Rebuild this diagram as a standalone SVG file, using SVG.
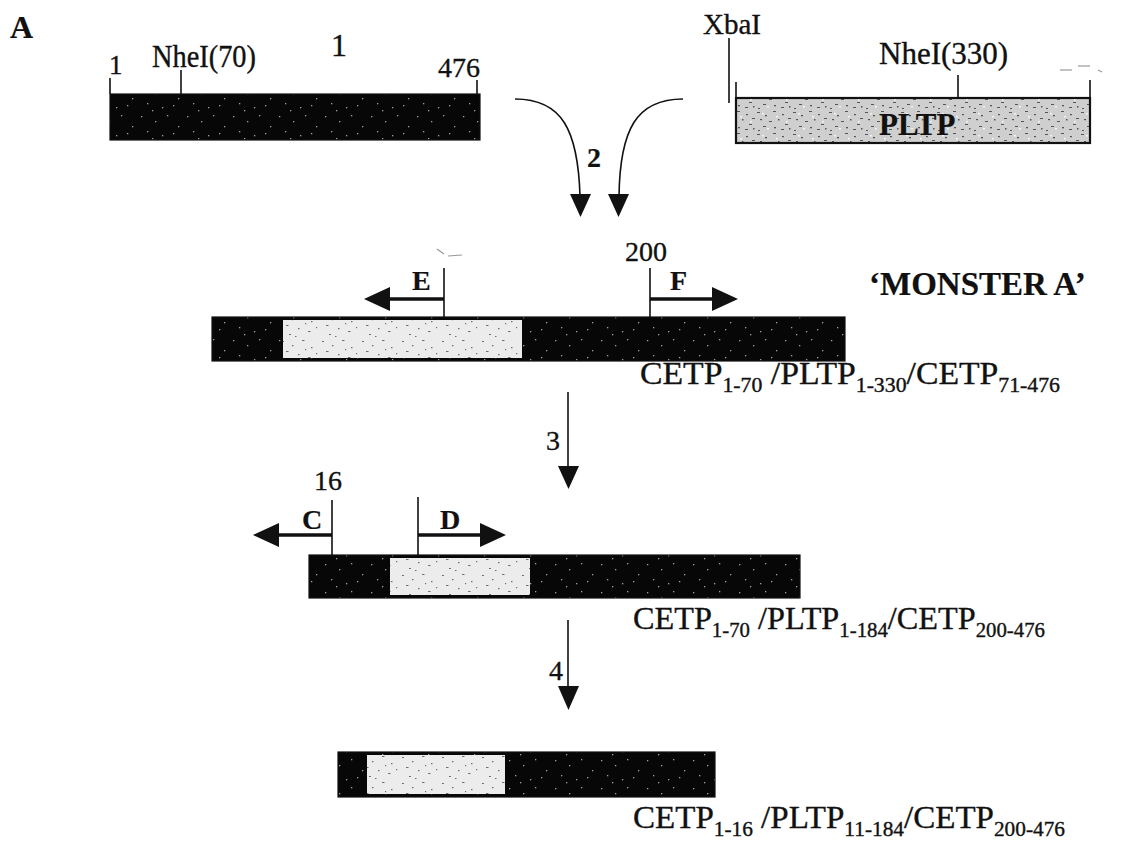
<svg xmlns="http://www.w3.org/2000/svg" width="1126" height="846" viewBox="0 0 1126 846">
<defs>
<pattern id="dark" width="46" height="28" patternUnits="userSpaceOnUse">
<rect width="46" height="28" fill="#070707"/>
<g fill="#a0a0a0">
<rect x="3" y="4" width="1.3" height="1.3"/><rect x="17" y="9" width="1.3" height="1.3"/><rect x="29" y="3" width="1.3" height="1.3"/>
<rect x="40" y="14" width="1.3" height="1.3"/><rect x="9" y="19" width="1.3" height="1.3"/><rect x="24" y="23" width="1.3" height="1.3"/>
<rect x="35" y="21" width="1.3" height="1.3"/><rect x="14" y="26" width="1.3" height="1.3"/>
</g>
</pattern>
<pattern id="light" width="40" height="26" patternUnits="userSpaceOnUse">
<rect width="40" height="26" fill="#ececec"/>
<g fill="#6e6e6e">
<rect x="2" y="3" width="2" height="1"/><rect x="12" y="7" width="1.5" height="1.2"/><rect x="22" y="2" width="2.5" height="1"/>
<rect x="31" y="9" width="1.5" height="1.2"/><rect x="6" y="13" width="2.5" height="1"/><rect x="18" y="16" width="1.5" height="1.2"/>
<rect x="28" y="19" width="2.5" height="1"/><rect x="36" y="15" width="1.2" height="1.2"/><rect x="9" y="22" width="2" height="1"/>
<rect x="25" y="11" width="1.2" height="1.2"/><rect x="15" y="24" width="1.5" height="1"/>
</g>
</pattern>
<pattern id="pltp" width="36" height="22" patternUnits="userSpaceOnUse">
<rect width="36" height="22" fill="#cfcfcf"/>
<g fill="#555">
<rect x="1" y="2" width="3" height="1"/><rect x="9" y="5" width="2" height="1.3"/><rect x="17" y="1" width="3" height="1"/>
<rect x="26" y="4" width="2" height="1.2"/><rect x="32" y="8" width="3" height="1"/><rect x="4" y="9" width="2" height="1.2"/>
<rect x="13" y="11" width="3" height="1"/><rect x="22" y="9" width="1.5" height="1.5"/><rect x="29" y="14" width="3" height="1"/>
<rect x="7" y="16" width="3" height="1"/><rect x="18" y="17" width="2" height="1.3"/><rect x="2" y="20" width="2" height="1"/>
<rect x="25" y="19" width="3" height="1"/><rect x="33" y="18" width="1.5" height="1.5"/>
</g>
<g fill="#f4f4f4">
<rect x="6" y="3" width="2" height="1.5"/><rect x="20" y="6" width="2" height="1.5"/><rect x="11" y="18" width="2" height="1.5"/><rect x="30" y="11" width="2" height="1.5"/>
</g>
</pattern>
</defs>
<style>
.t{font-family:"Liberation Serif","Times New Roman",serif;fill:#111;stroke:#111;stroke-width:0.35}
.b{font-weight:bold;stroke-width:0.2}
.tick{stroke:#111;stroke-width:1.6;fill:none}
.bar{stroke:#111;stroke-width:1.2}
.prim{stroke:#111;stroke-width:3.5;fill:none}
.ah{fill:#111}
.faint{stroke:#999;stroke-width:1.2;fill:none}
</style>
<rect width="1126" height="846" fill="#ffffff"/>

<g id="panel-label">
<text class="t b" x="10" y="38" font-size="32">A</text>
</g>

<g id="cetp-wt">
<rect class="bar" x="110" y="94" width="370" height="46" fill="url(#dark)"/>
<line class="tick" x1="110" y1="78" x2="110" y2="94"/>
<line class="tick" x1="181" y1="70" x2="181" y2="94"/>
<line class="tick" x1="477" y1="80" x2="477" y2="94"/>
<text class="t" x="109" y="74" font-size="27">1</text>
<text class="t" x="152" y="67" font-size="31" textLength="104" lengthAdjust="spacingAndGlyphs">NheI(70)</text>
<text class="t" x="331" y="56" font-size="32">1</text>
<text class="t" x="438" y="77" font-size="28">476</text>
</g>

<g id="pltp-wt">
<rect x="736" y="98" width="354" height="45" fill="url(#pltp)" stroke="#111" stroke-width="2.2"/>
<line class="tick" x1="729" y1="38" x2="729" y2="103"/>
<line class="tick" x1="736" y1="82" x2="736" y2="98"/>
<line class="tick" x1="958" y1="75" x2="958" y2="98"/>
<line class="tick" x1="1090" y1="80" x2="1090" y2="98"/>
<text class="t" x="703" y="34" font-size="29">XbaI</text>
<text class="t" x="879" y="64" font-size="31">NheI(330)</text>
<text class="t b" x="879" y="135" font-size="31">PLTP</text>
<line class="faint" x1="1060" y1="70" x2="1072" y2="70"/>
<line class="faint" x1="1078" y1="66" x2="1090" y2="66"/>
<line class="faint" x1="1098" y1="70" x2="1102" y2="72"/>
</g>

<g id="monster-a">
<rect class="bar" x="212" y="317" width="633" height="44" fill="url(#dark)"/>
<rect x="283" y="320" width="239" height="38" fill="url(#light)"/>
<line class="tick" x1="444" y1="268" x2="444" y2="317"/>
<line class="tick" x1="650" y1="268" x2="650" y2="317"/>
<line class="prim" x1="444" y1="299" x2="385" y2="299"/>
<path class="ah" d="M364,299 L390,287 L390,311 Z"/>
<line class="prim" x1="650" y1="299" x2="715" y2="299"/>
<path class="ah" d="M738,299 L712,287 L712,311 Z"/>
<text class="t b" x="412" y="290" font-size="28">E</text>
<text class="t b" x="670" y="290" font-size="28">F</text>
<text class="t" x="625" y="261" font-size="28" fill="#333">200</text>
<path class="faint" d="M437,249 L444,254 M448,256 L462,255"/>
<text class="t b" x="869" y="295" font-size="33">‘MONSTER A’</text>
<text class="t" x="640" y="384" font-size="31" textLength="420" lengthAdjust="spacingAndGlyphs">CETP<tspan font-size="20" dy="8">1-70</tspan><tspan dy="-8"> /PLTP</tspan><tspan font-size="20" dy="8">1-330</tspan><tspan dy="-8">/CETP</tspan><tspan font-size="20" dy="8">71-476</tspan></text>
</g>

<g id="construct-2">
<rect class="bar" x="309" y="555" width="491" height="43" fill="url(#dark)"/>
<rect x="390" y="558" width="140" height="37" fill="url(#light)"/>
<line class="tick" x1="332" y1="500" x2="332" y2="555"/>
<line class="tick" x1="418" y1="497" x2="418" y2="555"/>
<line class="prim" x1="332" y1="535" x2="274" y2="535"/>
<path class="ah" d="M253,535 L279,523 L279,547 Z"/>
<line class="prim" x1="418" y1="535" x2="484" y2="535"/>
<path class="ah" d="M506,535 L480,523 L480,547 Z"/>
<text class="t b" x="302" y="529" font-size="28">C</text>
<text class="t b" x="440" y="529" font-size="28">D</text>
<text class="t" x="314" y="490" font-size="28">16</text>
<text class="t" x="633" y="629" font-size="31" textLength="412" lengthAdjust="spacingAndGlyphs">CETP<tspan font-size="20" dy="8">1-70</tspan><tspan dy="-8"> /PLTP</tspan><tspan font-size="20" dy="8">1-184</tspan><tspan dy="-8">/CETP</tspan><tspan font-size="20" dy="8">200-476</tspan></text>
</g>

<g id="construct-3">
<rect class="bar" x="338" y="752" width="377" height="45" fill="url(#dark)"/>
<rect x="367" y="755" width="138" height="39" fill="url(#light)"/>
<text class="t" x="633" y="828" font-size="31" textLength="432" lengthAdjust="spacingAndGlyphs">CETP<tspan font-size="20" dy="8">1-16</tspan><tspan dy="-8"> /PLTP</tspan><tspan font-size="20" dy="8">11-184</tspan><tspan dy="-8">/CETP</tspan><tspan font-size="20" dy="8">200-476</tspan></text>
</g>

<g id="connectors">
<path class="tick" d="M515,99 C562,99 578,130 580,196"/>
<path class="ah" d="M570,194 L591,194 L580.5,217 Z"/>
<path class="tick" d="M683,99 C636,99 620,130 619,196"/>
<path class="ah" d="M608,194 L629,194 L618.5,217 Z"/>
<text class="t b" x="587" y="167" font-size="28">2</text>
<line class="tick" x1="568" y1="392" x2="568" y2="468"/>
<path class="ah" d="M558,466 L579,466 L568.5,489 Z"/>
<text class="t" x="546" y="450" font-size="28">3</text>
<line class="tick" x1="568" y1="620" x2="568" y2="688"/>
<path class="ah" d="M558,686 L579,686 L568.5,710 Z"/>
<text class="t" x="549" y="680" font-size="28">4</text>
</g>
</svg>
